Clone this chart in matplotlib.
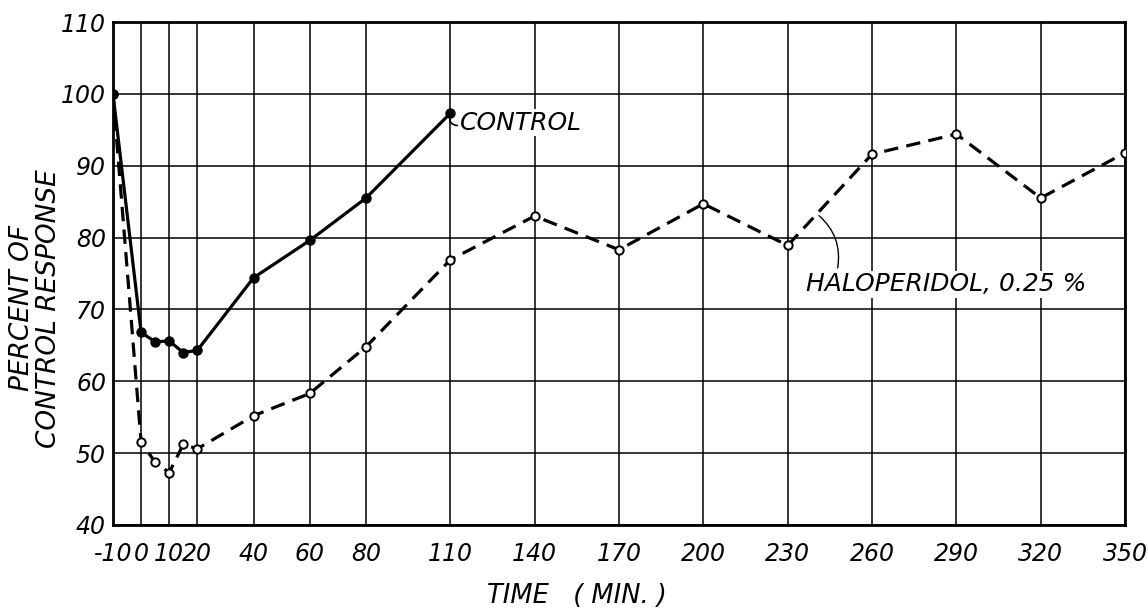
import matplotlib.pyplot as plt

# Time points (min)
time_control = [-10, 0, 5, 10, 15, 20, 40, 60, 80, 110]
control = [100, 66.8, 65.5, 65.6, 64.0, 64.3, 74.4, 79.6, 85.5, 97.3]

time_halo = [-10, 0, 5, 10, 15, 20, 40, 60, 80, 110, 140, 170, 200, 230, 260, 290, 320, 350]
haloperidol = [100, 51.6, 48.7, 47.3, 51.2, 50.6, 55.2, 58.3, 64.8, 76.9, 83.0,
               78.3, 84.7, 78.9, 91.6, 94.4, 85.5, 91.8]

xticks = [-10, 0, 10, 20, 40, 60, 80, 110, 140, 170, 200, 230, 260, 290, 320, 350]
yticks = [40, 50, 60, 70, 80, 90, 100, 110]

plt.rcParams['font.family'] = ['DejaVu Sans']

fig = plt.figure(figsize=(11.48, 6.13), dpi=100)
ax = fig.add_axes([0.0984, 0.1436, 0.8816, 0.8205])

ax.set_xlim(-10, 350)
ax.set_ylim(40, 110)
ax.set_xticks(xticks)
ax.set_yticks(yticks)
ax.set_xticklabels([str(t) for t in xticks], fontsize=17, style='italic')
ax.set_yticklabels([str(v) for v in yticks], fontsize=17, style='italic')
ax.tick_params(axis='x', length=0, pad=12.5)
ax.tick_params(axis='y', length=0, pad=5)
ax.grid(True, color='black', linewidth=1.1)
ax.set_axisbelow(True)
for s in ax.spines.values():
    s.set_linewidth(2)

# Control: solid line, filled dots
ax.plot(time_control, control, '-', color='black', lw=2.3,
        marker='o', markersize=6.5, markerfacecolor='black', zorder=4)

# Haloperidol: dashed line, open dots
line, = ax.plot(time_halo, haloperidol, '--', color='black', lw=2.3,
                marker='o', markersize=6, markerfacecolor='white',
                markeredgewidth=1.4, zorder=3)
line.set_dashes((4.5, 2.6))

# Labels on the curves
ax.text(113.5, 96.0, 'CONTROL', fontsize=18, style='italic', ha='left', va='center',
        bbox=dict(facecolor='white', edgecolor='none', pad=1), zorder=2)
ax.annotate('', xy=(110, 97.3), xytext=(113.5, 95.6),
            arrowprops=dict(arrowstyle='-', lw=1.2, connectionstyle='arc3,rad=-0.7'))

ax.text(236.5, 73.5, 'HALOPERIDOL, 0.25 %', fontsize=18, style='italic', ha='left',
        va='center', bbox=dict(facecolor='white', edgecolor='none', pad=1), zorder=2)
ax.annotate('', xy=(240.4, 83.3), xytext=(247.6, 75.4),
            arrowprops=dict(arrowstyle='-', lw=1.0, connectionstyle='arc3,rad=0.3'))

ax.set_xlabel('TIME   ( MIN. )', fontsize=18.5, style='italic')
ax.xaxis.set_label_coords(0.458, -0.116)
fig.text(0.031, 0.497, 'PERCENT OF\nCONTROL RESPONSE', rotation=90, fontsize=19,
         style='italic', ha='center', va='center', linespacing=1.05)

fig.savefig('out.png', dpi=100)
